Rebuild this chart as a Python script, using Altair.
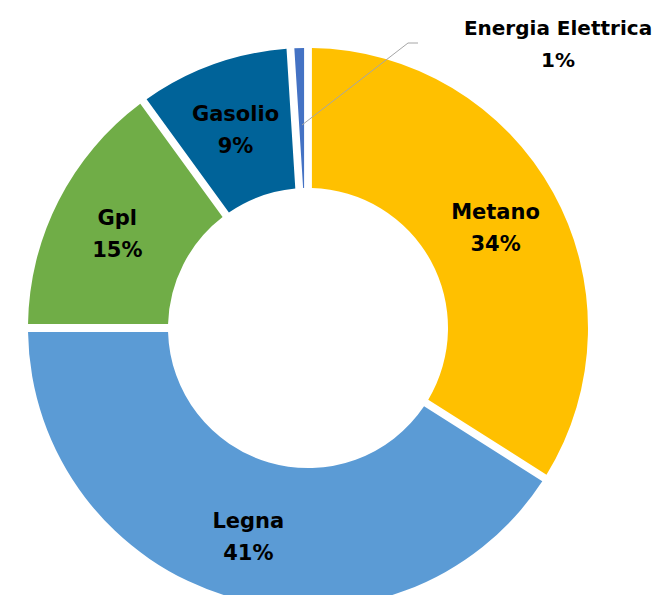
import altair as alt
import pandas as pd

categories = ["Metano", "Legna", "Gpl", "Gasolio", "Energia Elettrica"]
shares = [34, 41, 15, 9, 1]
colors = ["#FFC000", "#5B9BD5", "#70AD47", "#006399", "#4472C4"]

df = pd.DataFrame({"fonte": categories, "quota": shares, "ordine": list(range(len(categories)))})
df["etichetta"] = [f"{c}\n{v}%" if c != "Energia Elettrica" else "" for c, v in zip(categories, shares)]
df["etichetta_ext"] = [f"{c}\n{v}%" for c, v in zip(categories, shares)]

CX, CY = 300, 320
FONT = "DejaVu Sans"
FS = 21

base = alt.Chart(df).encode(
    theta=alt.Theta("quota:Q", stack=True),
    order=alt.Order("ordine:Q"),
    x=alt.value(CX),
    y=alt.value(CY),
)

arcs = base.mark_arc(innerRadius=140, outerRadius=280, padAngle=0.025).encode(
    color=alt.Color("fonte:N", scale=alt.Scale(domain=categories, range=colors), legend=None)
)

labels = base.mark_text(
    radius=214, font=FONT, fontSize=FS, fontWeight="bold", color="#000000",
    lineBreak="\n", lineHeight=32, align="center", baseline="middle", dy=-12
).encode(text="etichetta:N")

ext_label = alt.Chart(df).transform_filter(
    alt.datum.fonte == "Energia Elettrica"
).mark_text(
    font=FONT, fontSize=20, fontWeight="bold", color="#000000",
    lineBreak="\n", lineHeight=32, align="center", baseline="middle"
).encode(text="etichetta_ext:N", x=alt.value(550), y=alt.value(21))

leader1 = alt.Chart(df).transform_filter(
    alt.datum.fonte == "Energia Elettrica"
).mark_rule(color="#A6A6A6", strokeWidth=1).encode(
    x=alt.value(294), y=alt.value(117), x2=alt.value(400), y2=alt.value(35)
)
leader2 = alt.Chart(df).transform_filter(
    alt.datum.fonte == "Energia Elettrica"
).mark_rule(color="#A6A6A6", strokeWidth=1).encode(
    x=alt.value(400), y=alt.value(35), x2=alt.value(410), y2=alt.value(35)
)

chart = alt.layer(arcs, labels, leader1, leader2, ext_label).properties(
    width=650, height=587, padding=0, autosize=alt.AutoSizeParams(type="none")
).configure_view(stroke=None)

chart.save("out.html", embed_options={"renderer": "svg", "actions": False})
